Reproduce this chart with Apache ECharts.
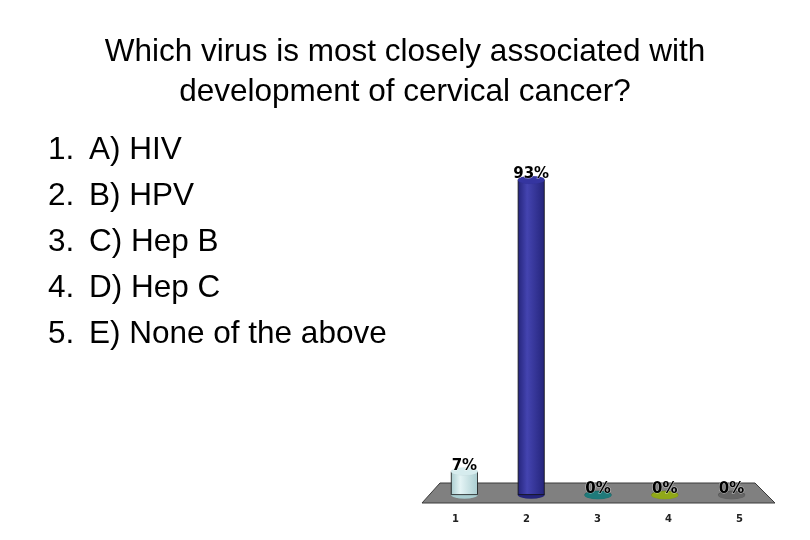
<!DOCTYPE html>
<html lang="en">
<head>
    <meta charset="UTF-8">
    <title>Cervical cancer poll</title>
    <script src="https://cdn.jsdelivr.net/npm/echarts@6/dist/echarts.min.js"></script>
    <style>
        html, body { margin: 0; padding: 0; background: #fff; }
        #main { width: 810px; height: 540px; }
    </style>
</head>
<body>
<div id="main"></div>
<script>
    // data
    var categories = ['1', '2', '3', '4', '5'];
    var percents = [7, 93, 0, 0, 0];
    var answers = ['A) HIV', 'B) HPV', 'C) Hep B', 'D) Hep C', 'E) None of the above'];
    var questionLines = ['Which virus is most closely associated with', 'development of cervical cancer?'];

    // cylinder colours: [side light, side dark, top]
    var palette = [
        ['#e4f4f5', '#a9cdd0', '#d6ecee'],
        ['#4444b0', '#24247a', '#3535a0'],
        ['#2a9090', '#145f5f', '#1f7a7a'],
        ['#a8c020', '#6f8410', '#90a818'],
        ['#7a7a7a', '#4e4e4e', '#666666']
    ];

    function sideColor(i) {
        return new echarts.graphic.LinearGradient(0, 0, 1, 0, [
            {offset: 0, color: palette[i][1]},
            {offset: 0.35, color: palette[i][0]},
            {offset: 1, color: palette[i][1]}
        ]);
    }

    var chart = echarts.init(document.getElementById('main'));

    var graphics = [{
        type: 'polygon',
        z: 0,
        shape: {points: [[440, 483], [755, 483], [775, 503], [422, 503]]},
        style: {fill: '#808080', stroke: '#3a3a3a', lineWidth: 1}
    }];
    for (var i = 0; i < answers.length; i++) {
        graphics.push({
            type: 'text', left: 48, top: 134 + i * 46,
            style: {text: (i + 1) + '.', font: '31.5px "Liberation Sans"', fill: '#000'}
        });
        graphics.push({
            type: 'text', left: 89, top: 134 + i * 46,
            style: {text: answers[i], font: '31.5px "Liberation Sans"', fill: '#000'}
        });
    }

    var option = {
        backgroundColor: '#fff',
        animation: false,
        title: {
            text: questionLines.join('\n'),
            left: 'center',
            top: 27,
            textStyle: {
                fontFamily: 'Liberation Sans',
                fontSize: 31.5,
                fontWeight: 'normal',
                lineHeight: 40,
                color: '#000'
            }
        },
        graphic: graphics,
        grid: [
            {left: 431, width: 334, top: 156, bottom: 45},
            {left: 420, width: 355, top: 509, height: 1}
        ],
        xAxis: [
            {
                type: 'category', data: categories, gridIndex: 0,
                axisLine: {show: false}, axisTick: {show: false}, axisLabel: {show: false}
            },
            {
                type: 'category', data: categories, gridIndex: 1,
                axisLine: {show: false}, axisTick: {show: false},
                axisLabel: {margin: 4, fontFamily: 'DejaVu Sans', fontSize: 10, fontWeight: 'bold', color: '#222'}
            }
        ],
        yAxis: [
            {type: 'value', min: 0, max: 100, gridIndex: 0, show: false},
            {type: 'value', gridIndex: 1, show: false}
        ],
        series: [
            {
                type: 'bar',
                barWidth: 27,
                z: 2,
                data: percents.map(function (v, i) {
                    return {value: v, itemStyle: {color: sideColor(i), borderColor: '#111', borderWidth: v > 0 ? 0.8 : 0}};
                })
            },
            {
                type: 'pictorialBar',
                symbol: 'circle',
                symbolSize: [27, 8],
                symbolPosition: 'start',
                symbolOffset: [0, '50%'],
                z: 1,
                data: percents.map(function (v, i) {
                    return {value: v, itemStyle: {color: palette[i][1], borderColor: '#111', borderWidth: 0.8}};
                })
            },
            {
                type: 'pictorialBar',
                symbol: 'circle',
                symbolSize: [27, 8],
                symbolPosition: 'end',
                symbolOffset: [0, '-50%'],
                z: 3,
                label: {
                    show: true,
                    position: 'top',
                    distance: -6,
                    formatter: '{c}%',
                    fontFamily: 'DejaVu Sans',
                    fontSize: 15,
                    fontWeight: 'bold',
                    color: '#000',
                    textBorderColor: 'rgba(255,255,255,0.6)',
                    textBorderWidth: 1
                },
                data: percents.map(function (v, i) {
                    return {value: v, itemStyle: {color: palette[i][2], borderColor: '#111', borderWidth: 0.8}};
                })
            }
        ]
    };

    chart.setOption(option);
</script>
</body>
</html>
